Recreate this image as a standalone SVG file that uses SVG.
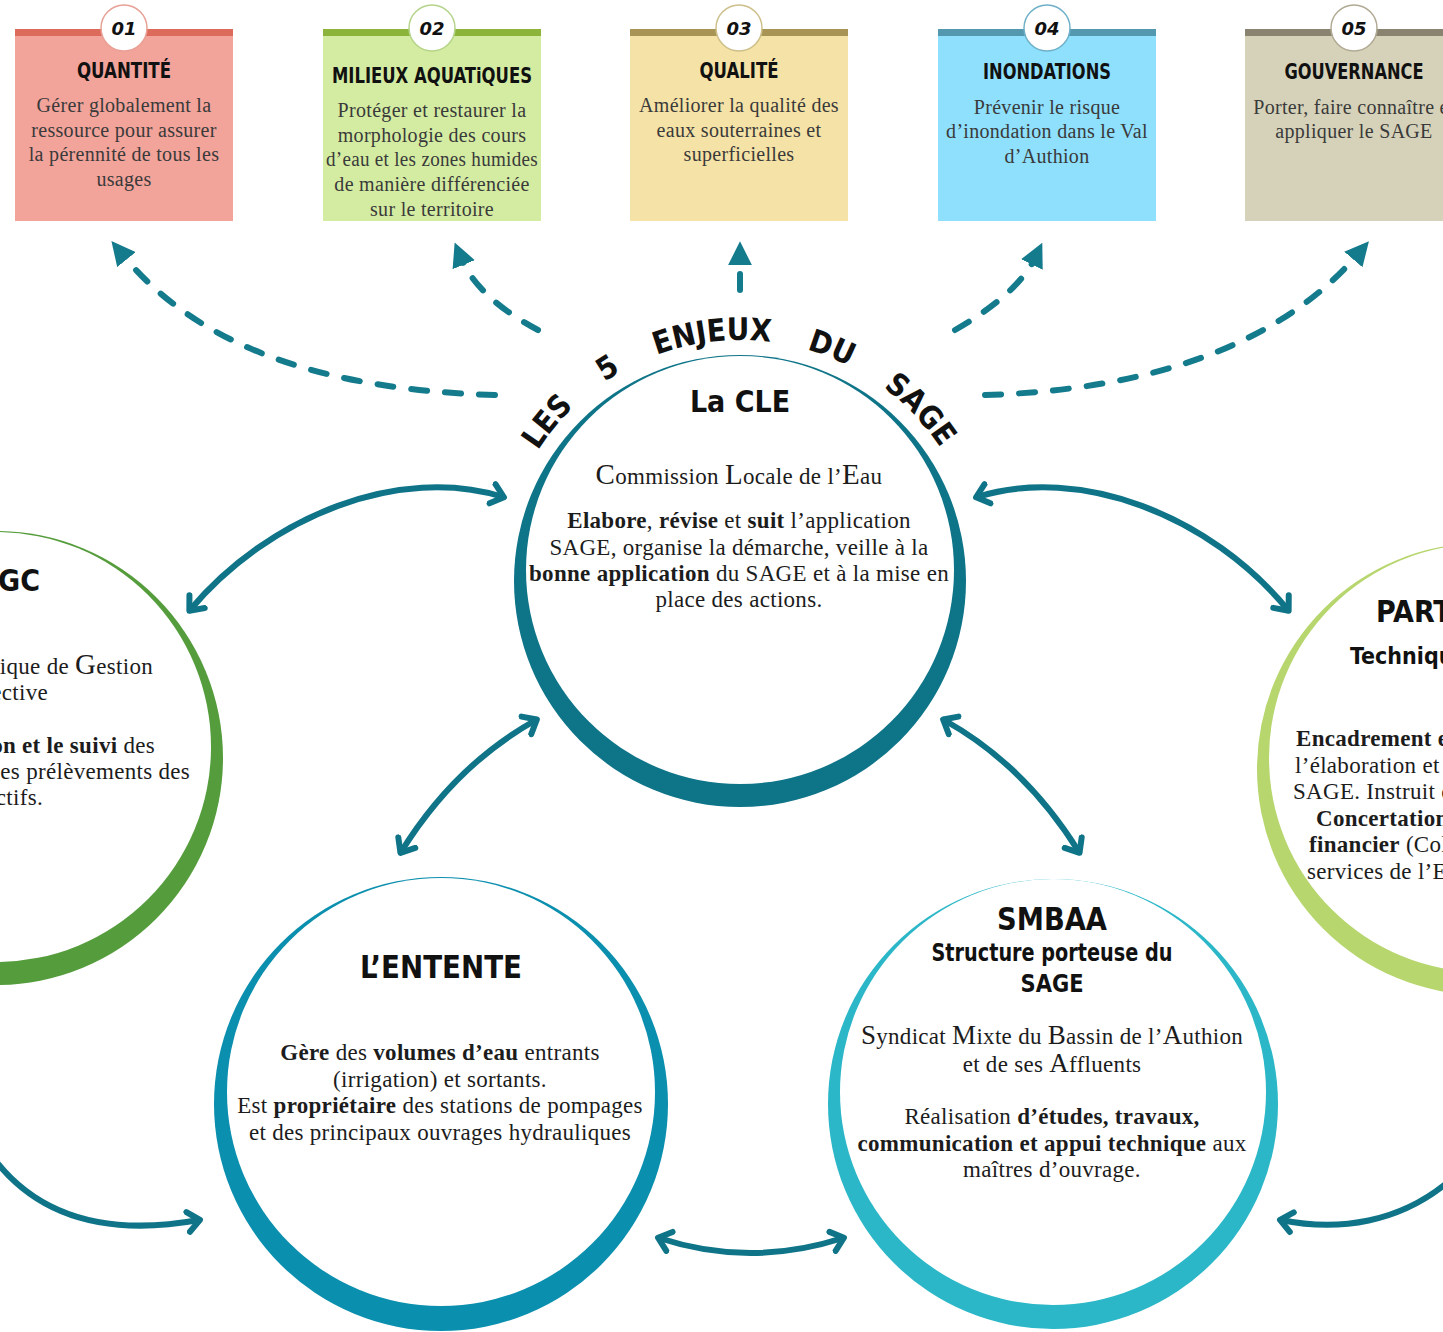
<svg xmlns="http://www.w3.org/2000/svg" width="1443" height="1332" viewBox="0 0 1443 1332">
<defs>
<style>
.ti{font-family:"DejaVu Sans Condensed","DejaVu Sans",sans-serif;font-weight:bold;fill:#111;}
.se{font-family:"Liberation Serif","DejaVu Serif",serif;fill:#1c1c1c;letter-spacing:0.3px;}
.bx{font-family:"Liberation Serif","DejaVu Serif",serif;fill:#3a3a3a;font-size:20px;letter-spacing:0.3px;text-anchor:middle;}
.hd{font-family:"DejaVu Sans Condensed","DejaVu Sans",sans-serif;font-weight:bold;fill:#111;font-size:21px;text-anchor:middle;}
.num{font-family:"DejaVu Sans","Liberation Sans",sans-serif;font-weight:bold;font-style:italic;font-size:18px;text-anchor:middle;fill:#111;}
.b{font-weight:bold;}
.dash{fill:none;stroke:#147b8d;stroke-width:6;stroke-dasharray:16 18;stroke-linecap:round;marker-end:url(#tri);}
.arr{fill:none;stroke:#0f7487;stroke-width:6;stroke-linecap:round;marker-start:url(#chev);marker-end:url(#chev);}
.arr1{fill:none;stroke:#0f7487;stroke-width:6;stroke-linecap:round;marker-end:url(#chev);}
</style>
<marker id="tri" viewBox="0 0 10 10" refX="3" refY="5" markerWidth="4" markerHeight="4" orient="auto">
<path d="M0,0 L10,5 L0,10 Z" fill="#147b8d"/>
</marker>
<marker id="chev" viewBox="-14 -14 28 28" refX="0" refY="0" markerWidth="28" markerHeight="28" markerUnits="userSpaceOnUse" orient="auto-start-reverse">
<path d="M -11 -10 L 1 0 L -11 10" fill="none" stroke="#0f7487" stroke-width="6" stroke-linecap="round" stroke-linejoin="round"/>
</marker>
<path id="arc" d="M 500 580 A 240 240 0 0 1 980 580" fill="none"/>
</defs>
<rect width="1443" height="1332" fill="#ffffff"/>

<!-- Top boxes -->
<g id="box1">
<rect x="15" y="29" width="218" height="192" fill="#f2a39a"/>
<rect x="15" y="29" width="218" height="7" fill="#dc6b5b"/>
<circle cx="124" cy="28" r="23" fill="#fff" stroke="#e8a095" stroke-width="1.5"/>
<text class="num" x="124" y="35">01</text>
<text class="hd" x="124" y="78" textLength="94" lengthAdjust="spacingAndGlyphs">QUANTITÉ</text>
<text class="bx" x="124" y="112">Gérer globalement la</text>
<text class="bx" x="124" y="137">ressource pour assurer</text>
<text class="bx" x="124" y="161">la pérennité de tous les</text>
<text class="bx" x="124" y="186">usages</text>
</g>
<g id="box2">
<rect x="323" y="29" width="218" height="192" fill="#d4eca2"/>
<rect x="323" y="29" width="218" height="7" fill="#8cb33a"/>
<circle cx="432" cy="28" r="23" fill="#fff" stroke="#b5d48a" stroke-width="1.5"/>
<text class="num" x="432" y="35">02</text>
<text class="hd" x="432" y="83" textLength="200" lengthAdjust="spacingAndGlyphs">MILIEUX AQUATiQUES</text>
<text class="bx" x="432" y="117">Protéger et restaurer la</text>
<text class="bx" x="432" y="142">morphologie des cours</text>
<text class="bx" x="432" y="166" textLength="212" lengthAdjust="spacingAndGlyphs">d’eau et les zones humides</text>
<text class="bx" x="432" y="191">de manière différenciée</text>
<text class="bx" x="432" y="216">sur le territoire</text>
</g>
<g id="box3">
<rect x="630" y="29" width="218" height="192" fill="#f5e2a6"/>
<rect x="630" y="29" width="218" height="7" fill="#a89454"/>
<circle cx="739" cy="28" r="23" fill="#fff" stroke="#cdbf8a" stroke-width="1.5"/>
<text class="num" x="739" y="35">03</text>
<text class="hd" x="739" y="78" textLength="79" lengthAdjust="spacingAndGlyphs">QUALITÉ</text>
<text class="bx" x="739" y="112">Améliorer la qualité des</text>
<text class="bx" x="739" y="137">eaux souterraines et</text>
<text class="bx" x="739" y="161">superficielles</text>
</g>
<g id="box4">
<rect x="938" y="29" width="218" height="192" fill="#8ee0fd"/>
<rect x="938" y="29" width="218" height="7" fill="#5498b0"/>
<circle cx="1047" cy="28" r="23" fill="#fff" stroke="#6fb0c8" stroke-width="1.5"/>
<text class="num" x="1047" y="35">04</text>
<text class="hd" x="1047" y="79" textLength="128" lengthAdjust="spacingAndGlyphs">INONDATIONS</text>
<text class="bx" x="1047" y="114">Prévenir le risque</text>
<text class="bx" x="1047" y="138">d’inondation dans le Val</text>
<text class="bx" x="1047" y="163">d’Authion</text>
</g>
<g id="box5">
<rect x="1245" y="29" width="218" height="192" fill="#d6d2b9"/>
<rect x="1245" y="29" width="218" height="7" fill="#8a8370"/>
<circle cx="1354" cy="28" r="23" fill="#fff" stroke="#b0aa94" stroke-width="1.5"/>
<text class="num" x="1354" y="35">05</text>
<text class="hd" x="1354" y="79" textLength="139" lengthAdjust="spacingAndGlyphs">GOUVERNANCE</text>
<text class="bx" x="1354" y="114">Porter, faire connaître et</text>
<text class="bx" x="1354" y="138">appliquer le SAGE</text>
</g>

<!-- Circles -->
<g id="agc">
<circle cx="-4" cy="758" r="227" fill="#559d3c"/>
<circle cx="-4" cy="747" r="215" fill="#fff"/>
<text class="ti" x="40" y="591" font-size="30" text-anchor="end">GC</text>
<text class="se" x="153" y="674" font-size="23" text-anchor="end">ique de <tspan font-size="29">G</tspan>estion</text>
<text class="se" x="48" y="700" font-size="23" text-anchor="end">ective</text>
<text class="se" x="155" y="753" font-size="23" text-anchor="end"><tspan class="b">on et le suivi</tspan> des</text>
<text class="se" x="190" y="779" font-size="23" text-anchor="end">es prélèvements des</text>
<text class="se" x="43" y="805" font-size="23" text-anchor="end">ctifs.</text>
</g>

<g id="partenaires">
<circle cx="1483" cy="769" r="226" fill="#b7d66e"/>
<circle cx="1483" cy="758" r="214" fill="#fff"/>
<text class="ti" x="1376" y="622" font-size="30">PART</text>
<text class="ti" x="1350" y="664" font-size="23">Techniqu</text>
<text class="se b" x="1296" y="746" font-size="23">Encadrement e</text>
<text class="se" x="1295" y="773" font-size="23">l’élaboration et c</text>
<text class="se" x="1293" y="799" font-size="23">SAGE. Instruit c</text>
<text class="se b" x="1316" y="826" font-size="23">Concertation</text>
<text class="se" x="1309" y="852" font-size="23"><tspan class="b">financier</tspan> (Col</text>
<text class="se" x="1307" y="879" font-size="23">services de l’E</text>
</g>

<g id="cle">
<circle cx="740" cy="581" r="226" fill="#0e7488"/>
<circle cx="740" cy="570" r="214" fill="#fff"/>
<text class="ti" x="740" y="412" font-size="30" text-anchor="middle">La CLE</text>
<text class="se" x="739" y="484" font-size="23" text-anchor="middle"><tspan font-size="29">C</tspan>ommission <tspan font-size="29">L</tspan>ocale de l’<tspan font-size="29">E</tspan>au</text>
<text class="se" x="739" y="528" font-size="23" text-anchor="middle"><tspan class="b">Elabore</tspan>, <tspan class="b">révise</tspan> et <tspan class="b">suit</tspan> l’application</text>
<text class="se" x="739" y="555" font-size="23" text-anchor="middle">SAGE, organise la démarche, veille à la</text>
<text class="se" x="739" y="581" font-size="23" text-anchor="middle"><tspan class="b">bonne application</tspan> du SAGE et à la mise en</text>
<text class="se" x="739" y="607" font-size="23" text-anchor="middle">place des actions.</text>
</g>

<g id="enjeux-titre">
<text class="ti" font-size="31" text-anchor="middle"><textPath href="#arc" startOffset="21.9%">LES</textPath></text>
<text class="ti" font-size="31" text-anchor="middle"><textPath href="#arc" startOffset="32.2%">5</textPath></text>
<text class="ti" font-size="31" text-anchor="middle"><textPath href="#arc" startOffset="46.4%">ENJEUX</textPath></text>
<text class="ti" font-size="31" text-anchor="middle"><textPath href="#arc" startOffset="62%">DU</textPath></text>
<text class="ti" font-size="31" text-anchor="middle"><textPath href="#arc" startOffset="75.9%">SAGE</textPath></text>
</g>

<g id="entente">
<circle cx="441" cy="1104" r="227" fill="#0b8fae"/>
<circle cx="441" cy="1092" r="214" fill="#fff"/>
<text class="ti" x="441" y="978" font-size="32" text-anchor="middle" textLength="162" lengthAdjust="spacingAndGlyphs">L’ENTENTE</text>
<text class="se" x="440" y="1060" font-size="23" text-anchor="middle"><tspan class="b">Gère</tspan> des <tspan class="b">volumes d’eau</tspan> entrants</text>
<text class="se" x="440" y="1087" font-size="23" text-anchor="middle">(irrigation) et sortants.</text>
<text class="se" x="440" y="1113" font-size="23" text-anchor="middle">Est <tspan class="b">propriétaire</tspan> des stations de pompages</text>
<text class="se" x="440" y="1140" font-size="23" text-anchor="middle">et des principaux ouvrages hydrauliques</text>
</g>

<g id="smbaa">
<circle cx="1053" cy="1104" r="225" fill="#2bb7c7"/>
<circle cx="1053" cy="1092" r="213" fill="#fff"/>
<text class="ti" x="1052" y="930" font-size="32" text-anchor="middle" textLength="110" lengthAdjust="spacingAndGlyphs">SMBAA</text>
<text class="ti" x="1052" y="961" font-size="25" text-anchor="middle" textLength="241" lengthAdjust="spacingAndGlyphs">Structure porteuse du</text>
<text class="ti" x="1052" y="992" font-size="25" text-anchor="middle" textLength="63" lengthAdjust="spacingAndGlyphs">SAGE</text>
<text class="se" x="1052" y="1044" font-size="23" text-anchor="middle" letter-spacing="0.4"><tspan font-size="27">S</tspan>yndicat <tspan font-size="27">M</tspan>ixte du <tspan font-size="27">B</tspan>assin de l’<tspan font-size="27">A</tspan>uthion</text>
<text class="se" x="1052" y="1072" font-size="23" text-anchor="middle" letter-spacing="0.4">et de ses <tspan font-size="27">A</tspan>ffluents</text>
<text class="se" x="1052" y="1124" font-size="23" text-anchor="middle">Réalisation <tspan class="b">d’études, travaux,</tspan></text>
<text class="se" x="1052" y="1151" font-size="23" text-anchor="middle"><tspan class="b">communication et appui technique</tspan> aux</text>
<text class="se" x="1052" y="1177" font-size="23" text-anchor="middle">maîtres d’ouvrage.</text>
</g>

<!-- Connectors -->
<g id="connectors">
<path class="dash" d="M 495 395 C 330 390 200 350 122 254"/>
<path class="dash" d="M 538 330 C 500 310 472 285 461 258"/>
<path class="dash" d="M 740 290 L 740 258"/>
<path class="dash" d="M 955 330 C 990 310 1022 285 1035 258"/>
<path class="dash" d="M 985 395 C 1150 390 1280 345 1358 254"/>
<path class="arr" d="M 503 497 C 400 465 270 515 190 610"/>
<path class="arr" d="M 977 497 C 1080 465 1210 515 1288 610"/>
<path class="arr" d="M 536 720 Q 455 765 401 852"/>
<path class="arr" d="M 944 720 Q 1025 765 1079 852"/>
<path class="arr" d="M 659 1238 Q 750 1268 843 1238"/>
<path class="arr1" d="M -5 1160 C 40 1218 110 1236 199 1220"/>
<path class="arr1" d="M 1448 1182 C 1400 1222 1340 1232 1281 1220"/>
</g>
</svg>
